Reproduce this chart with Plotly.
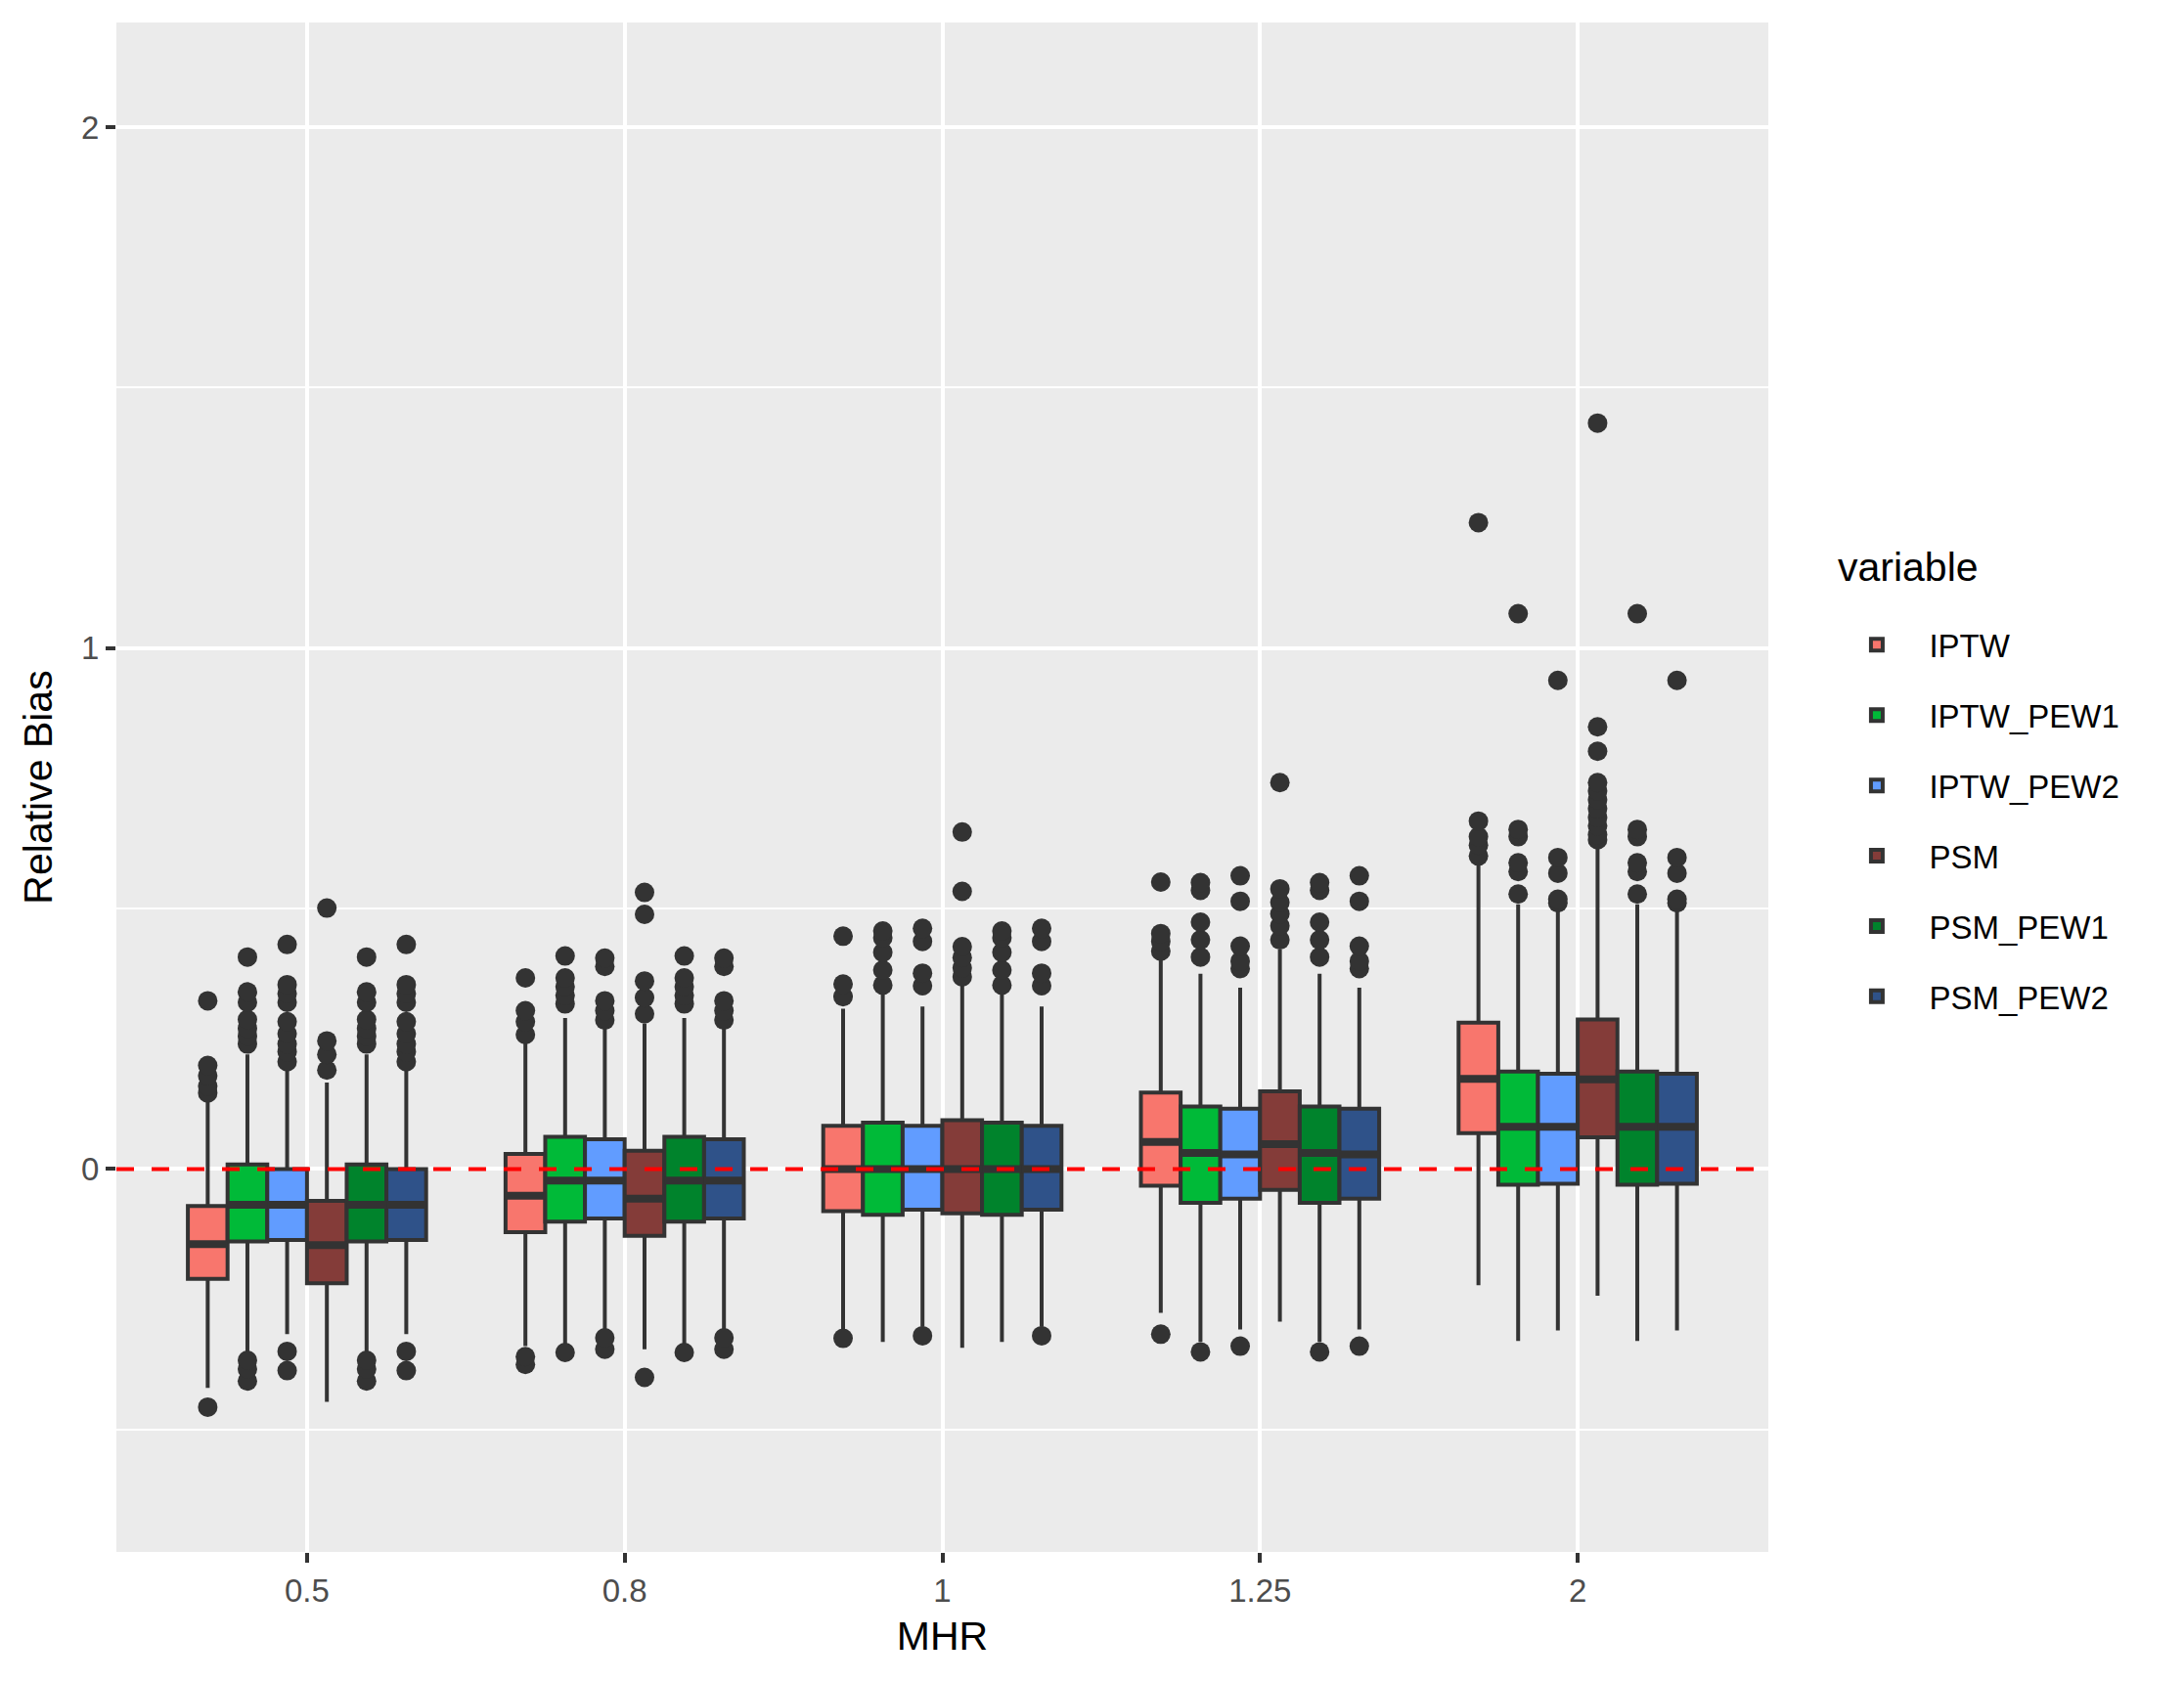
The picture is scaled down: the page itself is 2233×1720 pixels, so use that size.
import plotly.graph_objects as go

# ---------------- data ----------------
mhr = ["0.5", "0.8", "1", "1.25", "2"]
methods = ["IPTW", "IPTW_PEW1", "IPTW_PEW2", "PSM", "PSM_PEW1", "PSM_PEW2"]
colors = ["#F8766D", "#00BA38", "#619CFF", "#843C39", "#00832C", "#2F5289"]

iptw_low = [-0.42, -0.34, -0.31, -0.276, -0.223]
iptw_q1 = [-0.211, -0.121, -0.081, -0.032, 0.069]
iptw_med = [-0.144, -0.051, 0.0, 0.052, 0.173]
iptw_q3 = [-0.071, 0.029, 0.083, 0.147, 0.281]
iptw_up = [0.13, 0.242, 0.308, 0.403, 0.585]
iptw_out = [[0.323, 0.199, 0.179, 0.159, 0.146, -0.457],
            [0.367, 0.304, 0.283, 0.258, -0.36, -0.375],
            [0.447, 0.355, 0.331, -0.325],
            [0.551, 0.452, 0.437, 0.418, -0.317],
            [1.241, 0.668, 0.638, 0.622, 0.601]]

pew1_low = [-0.35, -0.34, -0.332, -0.332, -0.33]
pew1_q1 = [-0.139, -0.101, -0.088, -0.065, -0.03]
pew1_med = [-0.0685, -0.022, 0.0, 0.031, 0.081]
pew1_q3 = [0.009, 0.062, 0.089, 0.12, 0.187]
pew1_up = [0.22, 0.29, 0.335, 0.375, 0.508]
pew1_out = [[0.407, 0.34, 0.32, 0.287, 0.27, 0.255, 0.24, -0.367, -0.384, -0.407],
            [0.409, 0.367, 0.35, 0.333, 0.317, -0.352],
            [0.457, 0.444, 0.416, 0.382, 0.353],
            [0.55, 0.535, 0.474, 0.44, 0.407, -0.351],
            [1.066, 0.652, 0.638, 0.588, 0.571, 0.528]]

pew2_low = [-0.317, -0.312, -0.303, -0.308, -0.31]
pew2_q1 = [-0.136, -0.095, -0.078, -0.057, -0.028]
pew2_med = [-0.0685, -0.022, 0.0, 0.028, 0.081]
pew2_q3 = [0.0, 0.057, 0.083, 0.116, 0.183]
pew2_up = [0.193, 0.27, 0.312, 0.348, 0.495]
pew2_out = [[0.431, 0.354, 0.337, 0.32, 0.283, 0.26, 0.24, 0.225, 0.206, -0.35, -0.387],
            [0.405, 0.389, 0.323, 0.304, 0.286, -0.324, -0.346],
            [0.462, 0.437, 0.376, 0.352, -0.32],
            [0.563, 0.514, 0.428, 0.399, 0.385, -0.34],
            [0.938, 0.598, 0.568, 0.518, 0.511]]

psm_low = [-0.447, -0.346, -0.343, -0.293, -0.243]
psm_q1 = [-0.219, -0.128, -0.085, -0.04, 0.061]
psm_med = [-0.146, -0.057, 0.0, 0.048, 0.172]
psm_q3 = [-0.061, 0.035, 0.094, 0.149, 0.287]
psm_up = [0.166, 0.279, 0.352, 0.422, 0.622]
psm_out = [[0.501, 0.246, 0.22, 0.19],
           [0.531, 0.489, 0.361, 0.329, 0.298, -0.40],
           [0.647, 0.533, 0.427, 0.406, 0.386, 0.369],
           [0.742, 0.538, 0.512, 0.49, 0.467, 0.44],
           [1.432, 0.849, 0.802, 0.742, 0.726, 0.709, 0.692, 0.675, 0.659, 0.642, 0.632]]

psm1_low = [-0.35, -0.34, -0.332, -0.332, -0.33]
psm1_q1 = [-0.139, -0.101, -0.088, -0.065, -0.03]
psm1_med = [-0.0685, -0.022, 0.0, 0.031, 0.081]
psm1_q3 = [0.009, 0.062, 0.089, 0.12, 0.187]
psm1_up = [0.22, 0.29, 0.335, 0.375, 0.508]
psm1_out = [[0.407, 0.34, 0.32, 0.287, 0.27, 0.255, 0.24, -0.367, -0.384, -0.407],
            [0.409, 0.367, 0.35, 0.333, 0.317, -0.352],
            [0.457, 0.444, 0.416, 0.382, 0.353],
            [0.55, 0.535, 0.474, 0.44, 0.407, -0.351],
            [1.066, 0.652, 0.638, 0.588, 0.571, 0.528]]

psm2_low = [-0.317, -0.312, -0.303, -0.308, -0.31]
psm2_q1 = [-0.136, -0.095, -0.078, -0.057, -0.028]
psm2_med = [-0.0685, -0.022, 0.0, 0.028, 0.081]
psm2_q3 = [0.0, 0.057, 0.083, 0.116, 0.183]
psm2_up = [0.193, 0.27, 0.312, 0.348, 0.495]
psm2_out = [[0.431, 0.354, 0.337, 0.32, 0.283, 0.26, 0.24, 0.225, 0.206, -0.35, -0.387],
            [0.405, 0.389, 0.323, 0.304, 0.286, -0.324, -0.346],
            [0.462, 0.437, 0.376, 0.352, -0.32],
            [0.563, 0.514, 0.428, 0.399, 0.385, -0.34],
            [0.938, 0.598, 0.568, 0.518, 0.511]]

ref_line = 0
y_ticks = [0, 1, 2]
y_minor = [-0.5, 0.5, 1.5]
y_range = [-0.735, 2.201]

stats = {
    "IPTW": (iptw_low, iptw_q1, iptw_med, iptw_q3, iptw_up, iptw_out),
    "IPTW_PEW1": (pew1_low, pew1_q1, pew1_med, pew1_q3, pew1_up, pew1_out),
    "IPTW_PEW2": (pew2_low, pew2_q1, pew2_med, pew2_q3, pew2_up, pew2_out),
    "PSM": (psm_low, psm_q1, psm_med, psm_q3, psm_up, psm_out),
    "PSM_PEW1": (psm1_low, psm1_q1, psm1_med, psm1_q3, psm1_up, psm1_out),
    "PSM_PEW2": (psm2_low, psm2_q1, psm2_med, psm2_q3, psm2_up, psm2_out),
}

FONT = "Liberation Sans, Arial, Helvetica, sans-serif"
LINE = "#333333"
LW = 4

fig = go.Figure()
for name, col in zip(methods, colors):
    lo, q1, md, q3, up, out = stats[name]
    fig.add_trace(go.Box(
        name=name, x=mhr, y=out,
        q1=q1, median=md, q3=q3, lowerfence=lo, upperfence=up,
        boxpoints="outliers", jitter=0, pointpos=0,
        fillcolor=col, line=dict(color=LINE, width=LW), whiskerwidth=0,
        marker=dict(color=LINE, size=20, line=dict(width=0)),
        offsetgroup=name, alignmentgroup="all", legendgroup=name,
        hoverinfo="skip",
    ))
# thicker median bars (ggplot fatten = 2)
for name in methods:
    lo, q1, md, q3, up, out = stats[name]
    fig.add_trace(go.Box(
        name=name, x=mhr,
        q1=md, median=md, q3=md, lowerfence=md, upperfence=md,
        boxpoints=False, fillcolor="rgba(0,0,0,0)",
        line=dict(color=LINE, width=2 * LW), whiskerwidth=0,
        offsetgroup=name, alignmentgroup="all", showlegend=False,
        hoverinfo="skip",
    ))

fig.add_shape(type="line", xref="paper", x0=0, x1=1, yref="y", y0=ref_line, y1=ref_line,
              line=dict(color="#FF0000", width=LW, dash="18px,18px"), layer="above")

fig.add_annotation(text="variable", xref="paper", yref="paper", x=1.0408, y=0.6438,
                   xanchor="left", yanchor="middle", showarrow=False,
                   font=dict(size=41, color="black", family=FONT))

fig.update_layout(
    width=2217, height=1704,
    paper_bgcolor="white", plot_bgcolor="#EBEBEB",
    margin=dict(l=110.5, r=417, t=14.7, b=124.7, autoexpand=False),
    boxmode="group", boxgap=0.25, boxgroupgap=0,
    font=dict(family=FONT, size=33, color="#4D4D4D"),
    showlegend=True,
    legend=dict(
        font=dict(size=33, color="black", family=FONT),
        x=1.034, xanchor="left", y=0.611, yanchor="top",
        bgcolor="rgba(0,0,0,0)", itemwidth=97, tracegroupgap=26,
    ),
    hovermode=False,
)
fig.update_xaxes(
    type="category", range=[-0.6, 4.6],
    showgrid=True, gridcolor="white", gridwidth=LW,
    ticks="outside", ticklen=10, tickwidth=3.5, tickcolor=LINE,
    tickfont=dict(size=33, color="#4D4D4D", family=FONT),
    title=dict(text="MHR", font=dict(size=41, color="black", family=FONT), standoff=14),
    zeroline=False, showline=False, automargin=False,
)
fig.update_yaxes(
    range=y_range, tickvals=y_ticks, ticktext=[str(v) for v in y_ticks],
    showgrid=True, gridcolor="white", gridwidth=LW,
    minor=dict(tickvals=y_minor, showgrid=True, gridcolor="white", gridwidth=2, ticks=""),
    ticks="outside", ticklen=10, tickwidth=3.5, tickcolor=LINE,
    tickfont=dict(size=33, color="#4D4D4D", family=FONT),
    title=dict(text="Relative Bias", font=dict(size=41, color="black", family=FONT), standoff=16),
    zeroline=False, showline=False, automargin=False,
)

fig.write_html("out.html")
